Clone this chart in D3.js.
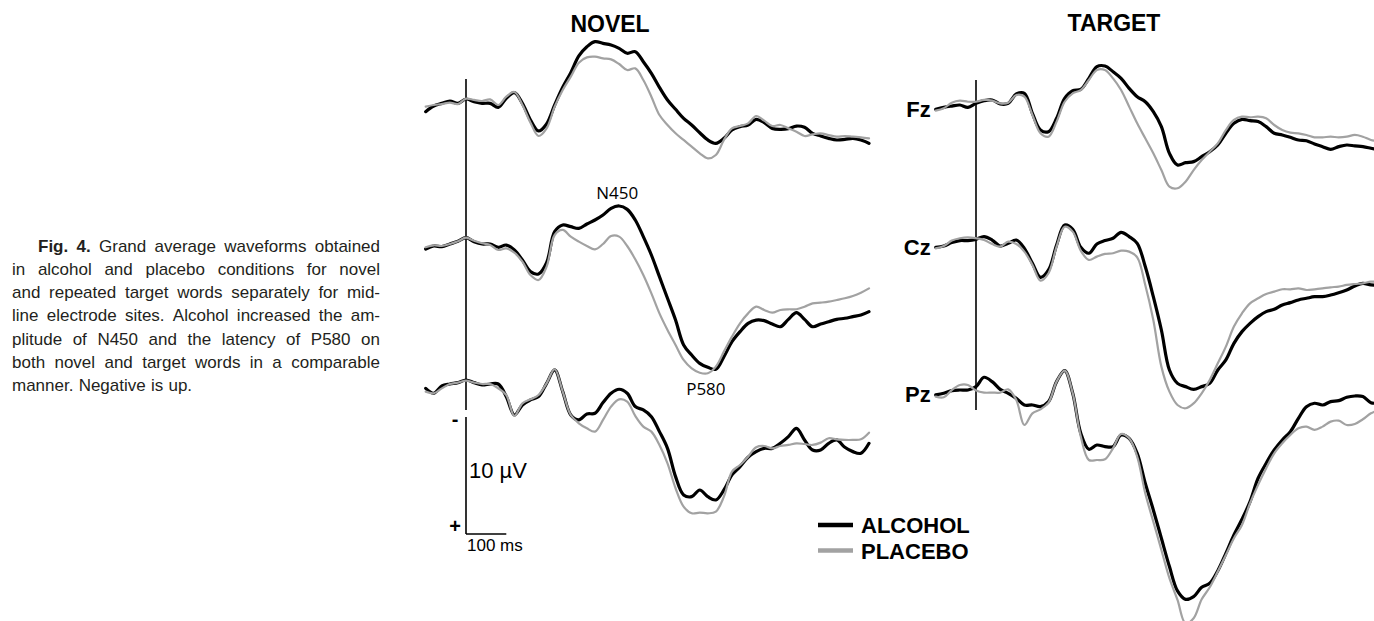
<!DOCTYPE html>
<html>
<head>
<meta charset="utf-8">
<script src="https://cdn.jsdelivr.net/npm/d3@7"></script>
<style>
  html, body { margin: 0; padding: 0; background: #fff; }
  svg { display: block; }
</style>
</head>
<body>
<svg id="chart" width="1374" height="621"></svg>
<script>
// Sampling grid of the averaged epochs (ms relative to word onset)
const times = d3.range(-100, 1001, 20);

const panelTitles = ["NOVEL", "TARGET"];
const electrodes = ["Fz", "Cz", "Pz"];
const conditions = ["ALCOHOL", "PLACEBO"];

// Grand average amplitudes in µV, one value per sample in `times` (negative = up)
const novelFzAlcohol = [
  0.74, 0.26, 0.03, -0.17, 0.03,
  -0.34, -0.11, 0.03, 0.03, 0.37,
  -0.40, -0.88, 0.03, 1.45, 2.39,
  1.79, 0.17, -1.34, -2.59, -4.02,
  -4.81, -5.24, -5.10, -4.96, -4.67,
  -4.25, -4.39, -3.53, -2.54, -1.34,
  -0.26, 0.54, 1.31, 1.88, 2.54,
  3.16, 3.45, 3.02, 2.31, 2.02,
  1.88, 1.40, 1.68, 2.17, 2.25,
  2.19, 1.97, 2.08, 2.59, 2.82,
  3.02, 3.16, 3.11, 3.02, 3.16,
  3.45];
const novelFzPlacebo = [
  0.31, 0.17, 0.09, -0.03, 0.09,
  -0.37, -0.26, -0.17, -0.31, 0.17,
  -0.54, -0.94, 0.17, 1.68, 2.82,
  2.17, 0.31, -1.11, -2.25, -3.45,
  -3.90, -3.96, -3.82, -3.73, -3.33,
  -2.82, -2.96, -1.97, -0.54, 1.03,
  1.88, 2.59, 3.16, 3.73, 4.30,
  4.73, 4.44, 3.16, 2.17, 1.97,
  1.74, 1.11, 1.51, 1.97, 1.88,
  2.17, 2.45, 2.82, 2.68, 2.59,
  2.74, 2.88, 2.82, 2.88, 2.93,
  3.02];
const novelCzAlcohol = [
  0.43, 0.17, 0.23, 0.00, -0.23,
  -0.54, -0.20, 0.00, 0.00, 0.28,
  0.09, 0.51, 1.37, 2.36, 2.56,
  1.60, -1.05, -1.62, -1.48, -1.34,
  -1.71, -2.05, -2.48, -3.05, -3.25,
  -2.96, -2.05, -0.63, 0.94, 2.79,
  4.64, 6.50, 8.63, 9.49, 10.20,
  10.54, 10.71, 9.63, 8.35, 7.49,
  6.78, 6.50, 6.55, 6.84, 7.07,
  6.44, 5.87, 6.44, 7.07, 6.84,
  6.64, 6.44, 6.35, 6.21, 6.07,
  5.78];
const novelCzPlacebo = [
  0.28, 0.11, 0.17, 0.00, -0.23,
  -0.54, -0.28, -0.06, 0.09, 0.51,
  0.37, 0.74, 1.51, 2.65, 3.08,
  1.94, -0.77, -1.20, -0.63, -0.20,
  0.17, 0.46, 0.00, -0.68, -0.63,
  0.17, 1.31, 2.65, 4.22, 5.93,
  7.35, 8.63, 9.91, 10.63, 11.00,
  11.05, 10.48, 9.20, 7.92, 6.78,
  5.93, 5.36, 5.64, 5.87, 5.64,
  5.58, 5.58, 5.36, 5.07, 5.01,
  4.93, 4.79, 4.64, 4.44, 4.16,
  3.79];
const novelPzAlcohol = [
  0.43, 0.85, 0.23, 0.06, -0.06,
  -0.28, -0.06, 0.14, 0.06, 0.06,
  1.14, 2.71, 1.85, 1.42, 1.14,
  0.00, -1.14, 0.71, 2.71, 3.13,
  2.62, 2.56, 1.65, 0.85, 0.51,
  0.85, 1.99, 2.28, 2.85, 4.13,
  5.56, 7.98, 9.54, 9.69, 9.12,
  9.69, 9.97, 9.12, 7.83, 7.12,
  6.32, 5.84, 5.56, 5.56, 5.13,
  4.56, 3.85, 4.84, 5.70, 5.70,
  5.13, 4.84, 5.47, 5.84, 5.98,
  5.13];
const novelPzPlacebo = [
  0.71, 0.85, 0.43, 0.06, -0.06,
  -0.23, -0.06, 0.06, 0.06, 0.43,
  1.00, 2.79, 1.71, 1.37, 1.00,
  0.00, -1.20, 0.71, 2.71, 3.42,
  3.85, 4.13, 3.13, 1.99, 1.37,
  1.57, 2.79, 3.70, 4.13, 5.27,
  6.84, 8.97, 10.54, 11.11, 11.05,
  11.11, 10.97, 9.69, 7.55, 6.98,
  6.27, 5.47, 5.36, 5.56, 5.36,
  5.27, 5.13, 5.19, 5.27, 5.07,
  4.70, 4.79, 4.84, 4.84, 4.79,
  4.22];
const targetFzAlcohol = [
  0.37, 0.20, 0.09, 0.00, 0.20,
  -0.14, -0.37, -0.43, -0.09, -0.14,
  -0.94, -1.00, 0.71, 2.14, 2.28,
  1.14, -0.57, -1.23, -1.34, -2.28,
  -3.28, -3.33, -2.85, -2.28, -1.42,
  -0.71, -0.28, 0.57, 1.85, 4.13,
  5.13, 4.93, 4.84, 4.42, 3.99,
  3.42, 2.42, 1.57, 1.23, 1.34,
  1.42, 1.85, 2.42, 2.56, 2.76,
  2.99, 3.05, 3.33, 3.56, 3.79,
  3.56, 3.42, 3.50, 3.56, 3.70,
  3.85];
const targetFzPlacebo = [
  0.48, 0.28, -0.20, -0.37, -0.28,
  -0.28, -0.43, -0.37, -0.14, -0.20,
  -0.85, -0.71, 0.85, 2.42, 2.71,
  1.42, -0.28, -1.00, -1.28, -2.14,
  -2.99, -2.99, -2.28, -1.28, 0.14,
  1.57, 2.85, 4.13, 5.56, 6.98,
  7.12, 6.55, 5.56, 4.70, 3.99,
  3.28, 2.14, 1.28, 1.00, 1.05,
  1.00, 1.14, 1.71, 2.14, 2.36,
  2.42, 2.56, 2.76, 2.76, 2.71,
  2.76, 2.71, 2.56, 2.71, 2.99,
  3.13];
const targetCzAlcohol = [
  0.34, 0.23, -0.06, -0.23, -0.23,
  -0.34, -0.57, -0.28, 0.23, 0.00,
  -0.28, 0.43, 1.71, 2.91, 2.28,
  0.14, -1.57, -1.20, 0.34, 0.85,
  0.06, -0.23, -0.43, -0.94, -0.57,
  0.00, 1.99, 4.56, 7.41, 10.83,
  11.97, 12.25, 12.48, 12.25, 11.97,
  10.83, 9.97, 8.55, 7.55, 6.84,
  6.27, 5.84, 5.64, 5.27, 5.07,
  4.84, 4.70, 4.56, 4.56, 4.42,
  4.22, 3.99, 3.65, 3.42, 3.56,
  3.56];
const targetCzPlacebo = [
  0.43, 0.23, -0.23, -0.43, -0.51,
  -0.43, -0.28, 0.06, 0.28, -0.14,
  0.06, 0.71, 1.85, 3.19, 2.56,
  0.28, -1.42, -1.00, 0.63, 1.42,
  1.14, 0.91, 0.85, 0.63, 0.71,
  1.20, 3.56, 6.55, 10.54, 12.68,
  13.82, 14.10, 13.68, 12.82, 11.68,
  10.26, 8.83, 7.12, 5.98, 5.13,
  4.70, 4.33, 4.13, 3.93, 3.93,
  3.85, 3.99, 3.93, 3.85, 3.76,
  3.70, 3.56, 3.48, 3.42, 3.28,
  3.28];
const targetPzAlcohol = [
  0.14, 0.00, -0.23, -0.28, -0.28,
  -0.57, -1.37, -1.00, -0.34, 0.00,
  0.43, 1.00, 1.00, 1.14, 0.71,
  -1.00, -1.94, 0.00, 3.42, 4.79,
  4.42, 4.56, 4.56, 3.56, 3.85,
  5.13, 7.69, 9.97, 12.39, 14.81,
  16.89, 17.61, 17.38, 16.58, 16.24,
  15.16, 13.68, 12.11, 10.77, 9.26,
  7.26, 5.98, 4.84, 3.99, 3.28,
  2.14, 1.14, 0.85, 1.00, 0.71,
  0.63, 0.34, 0.23, 0.28, 0.80,
  0.85];
const targetPzPlacebo = [
  0.28, 0.34, -0.28, -0.71, -0.71,
  -0.23, -0.06, -0.06, -0.06, -0.34,
  0.57, 2.71, 1.71, 1.37, 0.80,
  -1.00, -1.94, 0.00, 3.70, 5.70,
  5.70, 5.64, 4.70, 3.48, 3.85,
  5.41, 8.55, 10.97, 13.39, 15.81,
  17.66, 19.66, 19.23, 17.61, 16.58,
  15.24, 13.82, 12.39, 11.25, 9.40,
  7.83, 6.41, 5.13, 4.27, 3.56,
  2.99, 2.85, 3.13, 2.85, 2.42,
  2.34, 2.71, 2.62, 2.22, 1.71,
  1.42];

// Component labels placed on the novel-word waveforms: [label, ms, electrode, µV position]
const componentLabels = [["N450", 400, "Cz", -3.85], ["P580", 620, "Cz", 12.9]];

const captionLines = [
  "Fig. 4. Grand average waveforms obtained",
  "in alcohol and placebo conditions for novel",
  "and repeated target words separately for mid-",
  "line electrode sites. Alcohol increased the am-",
  "plitude of N450 and the latency of P580 on",
  "both novel and target words in a comparable",
  "manner. Negative is up."
];

const waveforms = {
  NOVEL: {
    Fz: { ALCOHOL: novelFzAlcohol, PLACEBO: novelFzPlacebo },
    Cz: { ALCOHOL: novelCzAlcohol, PLACEBO: novelCzPlacebo },
    Pz: { ALCOHOL: novelPzAlcohol, PLACEBO: novelPzPlacebo }
  },
  TARGET: {
    Fz: { ALCOHOL: targetFzAlcohol, PLACEBO: targetFzPlacebo },
    Cz: { ALCOHOL: targetCzAlcohol, PLACEBO: targetCzPlacebo },
    Pz: { ALCOHOL: targetPzAlcohol, PLACEBO: targetPzPlacebo }
  }
};

// ---- layout ----
const pxPerMicrovolt = 11.7;
const layout = {
  NOVEL:  { range: [425.7, 869.0], zeros: [103, 244, 383.3], title: [610, 32], marker: [79, 410] },
  TARGET: { range: [935.7, 1379.0], zeros: [105, 243.3, 393.3], title: [1114, 31], marker: [80, 410] }
};
const stroke = {
  ALCOHOL: { color: "#000000", width: 3.2 },
  PLACEBO: { color: "#a2a2a2", width: 2.2 }
};
const boldFont = "'Liberation Sans', Arial, Helvetica, sans-serif";

const svg = d3.select("#chart");

const xScales = {};
panelTitles.forEach(panel => {
  const L = layout[panel];
  const x = d3.scaleLinear().domain([-100, 1000]).range(L.range);
  xScales[panel] = x;
  const g = svg.append("g").attr("class", "panel " + panel.toLowerCase());

  // title
  g.append("text")
    .attr("x", L.title[0]).attr("y", L.title[1])
    .attr("text-anchor", "middle")
    .style("font-family", boldFont).style("font-weight", "bold").style("font-size", "23px")
    .text(panel);

  // stimulus onset marker
  g.append("line")
    .attr("x1", x(0)).attr("x2", x(0))
    .attr("y1", L.marker[0]).attr("y2", L.marker[1])
    .attr("stroke", "#000").attr("stroke-width", 1.6);

  electrodes.forEach((el, i) => {
    const zero = L.zeros[i];
    const y = d3.scaleLinear().domain([0, 10]).range([zero, zero + 10 * pxPerMicrovolt]);
    const line = d3.line()
      .x((d, k) => x(times[k]))
      .y(d => y(d))
      .curve(d3.curveCatmullRom.alpha(0.5));

    conditions.forEach(cond => {
      g.append("path")
        .datum(waveforms[panel][el][cond])
        .attr("d", line)
        .attr("fill", "none")
        .attr("stroke", stroke[cond].color)
        .attr("stroke-width", stroke[cond].width)
        .attr("stroke-linejoin", "round")
        .attr("stroke-linecap", "round");
    });

    if (panel === "TARGET") {
      g.append("text")
        .attr("x", L.range[0] - 5)
        .attr("y", y(waveforms[panel][el].ALCOHOL[0]) + 7.5)
        .attr("text-anchor", "end")
        .style("font-family", boldFont).style("font-weight", "bold").style("font-size", "22px")
        .text(el);
    }

    if (panel === "NOVEL") {
      componentLabels.filter(c => c[2] === el).forEach(c => {
        g.append("text")
          .attr("x", x(c[1]) - 10)
          .attr("y", y(c[3]))
          .attr("text-anchor", "middle")
          .style("font-family", "'Open Sans', 'Noto Sans', sans-serif")
          .style("font-size", "17px")
          .text(c[0]);
      });
    }
  });
});

// ---- calibration bar: 10 µV by 100 ms ----
const xN = xScales.NOVEL;
const barY = d3.scaleLinear().domain([0, 10]).range([417, 417 + 10 * pxPerMicrovolt]);
const bar = svg.append("g").attr("class", "scale-bar");
bar.append("line")
  .attr("x1", xN(0)).attr("x2", xN(0)).attr("y1", barY(0)).attr("y2", barY(10))
  .attr("stroke", "#000").attr("stroke-width", 1.6);
bar.append("line")
  .attr("x1", xN(0)).attr("x2", xN(100)).attr("y1", barY(10)).attr("y2", barY(10))
  .attr("stroke", "#000").attr("stroke-width", 1.6);
bar.append("text")
  .attr("x", xN(0) - 11).attr("y", barY(0) + 9)
  .attr("text-anchor", "middle")
  .style("font-family", boldFont).style("font-weight", "bold").style("font-size", "20px")
  .text("-");
bar.append("text")
  .attr("x", xN(0) - 11).attr("y", barY(10) - 1)
  .attr("text-anchor", "middle")
  .style("font-family", boldFont).style("font-weight", "bold").style("font-size", "20px")
  .text("+");
bar.append("text")
  .attr("x", xN(0) + 3).attr("y", 478)
  .style("font-family", "'Liberation Sans', Arial, sans-serif").style("font-size", "22px")
  .text("10 µV");
bar.append("text")
  .attr("x", xN(0) + 1).attr("y", 551)
  .style("font-family", "'Liberation Sans', Arial, sans-serif").style("font-size", "17px")
  .text("100 ms");

// ---- legend ----
const legend = svg.append("g").attr("class", "legend");
conditions.forEach((cond, i) => {
  const ly = 525 + i * 25.5;
  legend.append("line")
    .attr("x1", 818).attr("x2", 853).attr("y1", ly).attr("y2", ly)
    .attr("stroke", stroke[cond].color).attr("stroke-width", 4.5);
  legend.append("text")
    .attr("x", 861).attr("y", ly + 8)
    .style("font-family", boldFont).style("font-weight", "bold").style("font-size", "22px")
    .text(cond);
});

// ---- justified caption ----
const caption = svg.append("g").attr("class", "caption")
  .style("font-family", "'Liberation Sans', Arial, Helvetica, sans-serif")
  .style("font-size", "17px")
  .attr("fill", "#231f20");
captionLines.forEach((lineText, i) => {
  const baseline = 251.5 + i * 23.3;
  const left = i === 0 ? 38 : 12;
  const right = 380;
  const words = lineText.split(" ");
  const nodes = words.map((w, k) => {
    const t = caption.append("text").attr("y", baseline).text(w);
    if (i === 0 && k < 2) t.style("font-weight", "bold");
    return t;
  });
  const widths = nodes.map(n => n.node().getComputedTextLength());
  const total = d3.sum(widths);
  const isLast = i === captionLines.length - 1;
  const gap = isLast ? 5.2 : (right - left - total) / (words.length - 1);
  let cx = left;
  nodes.forEach((n, k) => {
    n.attr("x", cx);
    cx += widths[k] + gap;
  });
});
</script>
</body>
</html>
